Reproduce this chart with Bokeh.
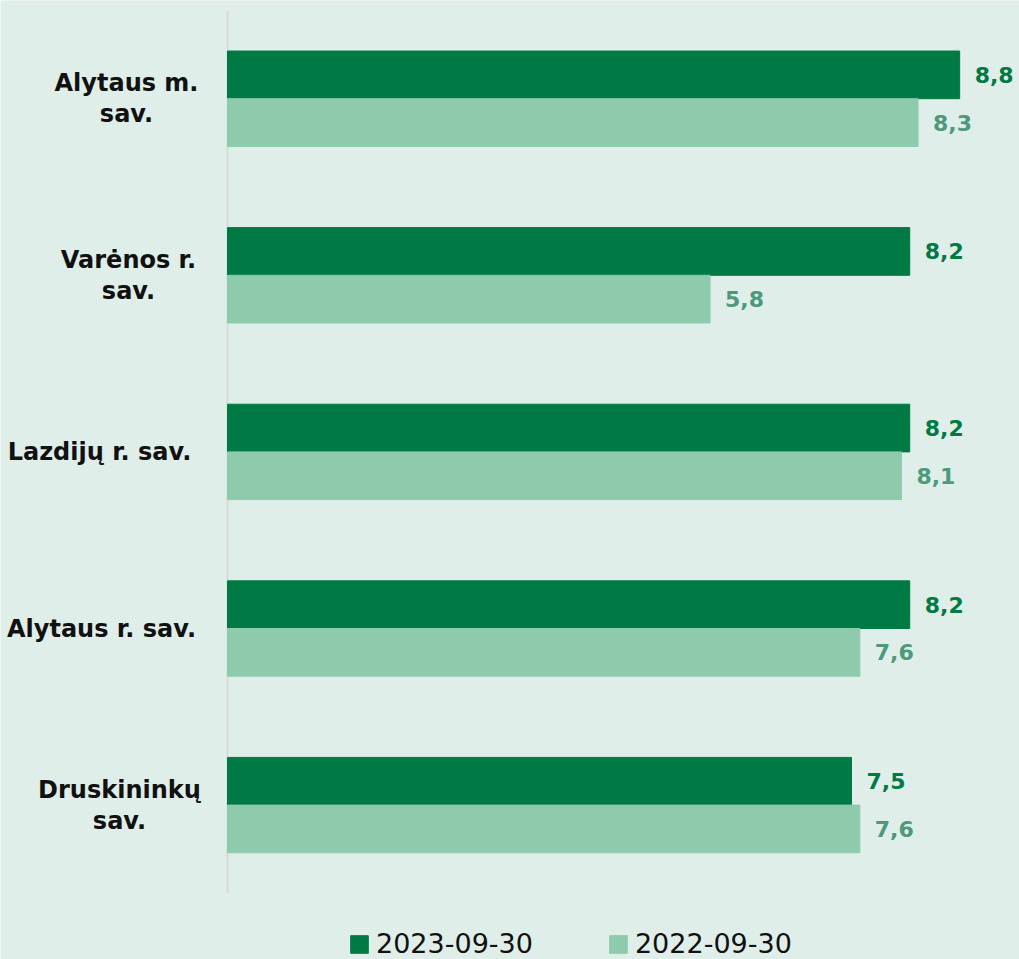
from bokeh.plotting import figure
from bokeh.models import (ColumnDataSource, Range1d, LabelSet, Legend, LegendItem)
from bokeh.transform import dodge
from bokeh.core.properties import value
from bokeh.embed import file_html
from bokeh.resources import INLINE

# ---- data ----
categories = ["Alytaus m.\nsav.", "Varėnos r.\nsav.", "Lazdijų r. sav.",
              "Alytaus r. sav.", "Druskininkų\nsav."]
series_names = ["2023-09-30", "2022-09-30"]
values_2023 = [8.8, 8.2, 8.2, 8.2, 7.5]
values_2022 = [8.3, 5.8, 8.1, 7.6, 7.6]

# ---- styles / layout ----
BG = "#DFEEE8"
DARK = "#007A45"
LIGHT = "#8ECBAD"
LABEL_2022 = "#4D9A7A"
AXIS = "#D9D9D9"
cat_label_offsets = [-101, -99, -128, -126, -108]  # px from axis to centre of label block

W, H = 1019, 959
AXIS_PX = 227          # pixel position of the value axis (x = 0)
PX_PER_UNIT = 83.2     # horizontal scale
TOP_PX = 9.9           # top of category band area
BAND_PX = 176.6        # height of one category band
LINE_PX = 31           # line spacing of category labels
n = len(categories)


def fmt(v):
    return f"{v:.1f}".replace(".", ",")


ypos = [-i for i in range(n)]
src = ColumnDataSource(dict(
    y=ypos,
    v23=values_2023,
    v22=values_2022,
    t23=[fmt(v) for v in values_2023],
    t22=[fmt(v) for v in values_2022],
))

# one row per text line of the category labels, each line centred
line_txt, line_y, line_x, line_off = [], [], [], []
for cat, y, off in zip(categories, ypos, cat_label_offsets):
    parts = cat.split("\n")
    for j, part in enumerate(parts):
        line_txt.append(part)
        line_y.append(y + ((len(parts) - 1) / 2 - j) * LINE_PX / BAND_PX)
        line_x.append(0)
        line_off.append(off)
cat_src = ColumnDataSource(dict(t=line_txt, y=line_y, x=line_x, off=line_off))

x_start = -AXIS_PX / PX_PER_UNIT
x_end = (W - AXIS_PX) / PX_PER_UNIT
y_end = 0.5 + TOP_PX / BAND_PX
y_start = y_end - H / BAND_PX

p = figure(width=W, height=H, output_backend="svg", toolbar_location=None,
           x_range=Range1d(x_start, x_end), y_range=Range1d(y_start, y_end),
           x_axis_type=None, y_axis_type=None, min_border=0,
           min_border_left=0, min_border_right=0, min_border_top=0,
           min_border_bottom=0)
p.background_fill_color = BG
p.border_fill_color = BG
p.outline_line_color = None
p.grid.visible = False

# value-axis line
p.segment(x0=[0], x1=[0], y0=[0.5], y1=[0.5 - n], line_color=AXIS, line_width=2)

r23 = p.hbar(y=dodge("y", 0.135), right="v23", left=0,
             height=0.27, color=DARK, source=src)
r22 = p.hbar(y=dodge("y", -0.135), right="v22", left=0,
             height=0.27, color=LIGHT, source=src)

# value labels
lab_font = value("DejaVu Sans")
p.add_layout(LabelSet(x="v23", y=dodge("y", 0.135), text="t23",
                      x_offset=15, text_baseline="middle", text_align="left",
                      text_font=lab_font, text_font_style="bold",
                      text_font_size="22px", text_color=DARK, source=src))
p.add_layout(LabelSet(x="v22", y=dodge("y", -0.135), text="t22",
                      x_offset=15, text_baseline="middle", text_align="left",
                      text_font=lab_font, text_font_style="bold",
                      text_font_size="22px", text_color=LABEL_2022, source=src))

# category labels
p.add_layout(LabelSet(x="x", y="y", text="t", x_offset="off",
                      text_baseline="middle", text_align="center",
                      text_font=lab_font, text_font_style="bold",
                      text_font_size="24px", text_color="#111111",
                      source=cat_src))

legend = Legend(items=[LegendItem(label=series_names[0], renderers=[r23]),
                       LegendItem(label=series_names[1], renderers=[r22])],
                orientation="horizontal", location=(348, 0),
                glyph_width=22, glyph_height=22, label_standoff=6, spacing=74,
                padding=0, margin=0, border_line_alpha=0, background_fill_alpha=0,
                label_text_font="DejaVu Sans", label_text_font_size="27px",
                label_text_color="#111111")
p.add_layout(legend)

open("out.html", "w").write(file_html(p, INLINE))
